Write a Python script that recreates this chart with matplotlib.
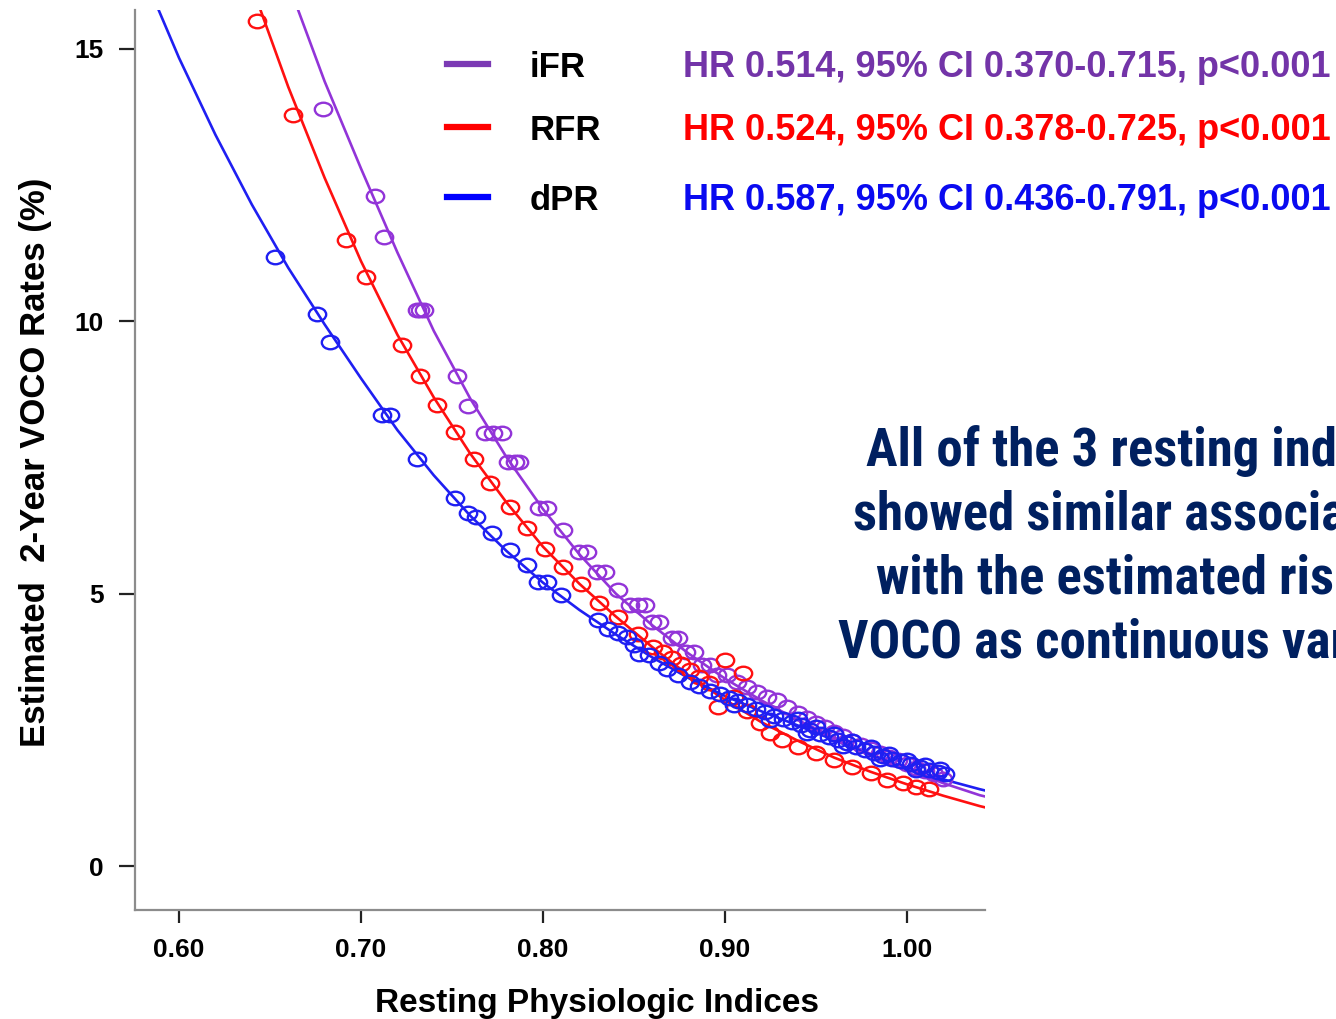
import matplotlib
matplotlib.use("Agg")
import matplotlib.pyplot as plt
from matplotlib import font_manager as fm
from matplotlib.path import Path
from matplotlib.transforms import Affine2D
from matplotlib.lines import Line2D

# fitted curves
fit_x = {
    "iFR": [0.66, 0.68, 0.70, 0.72, 0.74, 0.76, 0.78, 0.80, 0.82, 0.84, 0.86, 0.88,
            0.90, 0.92, 0.94, 0.96, 0.98, 1.00, 1.02, 1.04, 1.045],
    "RFR": [0.63, 0.64, 0.66, 0.68, 0.70, 0.72, 0.74, 0.76, 0.78, 0.80, 0.82, 0.84,
            0.86, 0.88, 0.90, 0.92, 0.94, 0.96, 0.98, 1.00, 1.02, 1.04, 1.045],
    "dPR": [0.58, 0.60, 0.62, 0.64, 0.66, 0.68, 0.70, 0.72, 0.74, 0.76, 0.78, 0.80,
            0.82, 0.84, 0.86, 0.88, 0.90, 0.92, 0.94, 0.96, 0.98, 1.00, 1.02, 1.04, 1.045],
}
fit_y = {
    "iFR": [16.2, 14.4, 12.8, 11.26, 9.82, 8.58, 7.5, 6.55, 5.72, 5.0, 4.42, 3.9,
            3.44, 3.04, 2.68, 2.36, 2.06, 1.78, 1.52, 1.3, 1.26],
    "RFR": [17.6, 16.15, 14.3, 12.63, 11.1, 9.75, 8.6, 7.57, 6.67, 5.86, 5.18, 4.58,
            4.02, 3.5, 3.05, 2.64, 2.3, 1.99, 1.73, 1.5, 1.29, 1.1, 1.06],
    "dPR": [16.4, 14.83, 13.42, 12.14, 10.98, 9.94, 8.95, 8.0, 7.17, 6.43, 5.78, 5.2,
            4.7, 4.25, 3.83, 3.45, 3.12, 2.84, 2.58, 2.31, 2.04, 1.8, 1.59, 1.41, 1.37],
}

# individual estimates (open circles)
pts_x = {
    "iFR": [0.679, 0.7077, 0.7126, 0.731, 0.7325, 0.7345, 0.7527, 0.759, 0.768, 0.7725, 0.7775,
            0.781, 0.7846, 0.787, 0.798, 0.802, 0.811, 0.820, 0.824, 0.8297, 0.834, 0.841,
            0.848, 0.852, 0.856, 0.860, 0.864, 0.871, 0.874, 0.8785, 0.883, 0.8874, 0.892,
            0.8956, 0.901, 0.9066, 0.912, 0.9176, 0.923, 0.9286, 0.934, 0.940, 0.945, 0.950,
            0.955, 0.960, 0.965, 0.970, 0.975, 0.980, 0.985, 0.990, 0.995, 1.000, 1.005,
            1.010, 1.015, 1.020],
    "RFR": [0.643, 0.6626, 0.692, 0.7027, 0.7225, 0.7324, 0.742, 0.7516, 0.762, 0.771, 0.782,
            0.791, 0.801, 0.811, 0.821, 0.831, 0.841, 0.852, 0.8604, 0.866, 0.871, 0.876,
            0.881, 0.886, 0.891, 0.896, 0.900, 0.905, 0.910, 0.912, 0.919, 0.925, 0.9315,
            0.940, 0.950, 0.960, 0.970, 0.980, 0.989, 0.998, 1.005, 1.012],
    "dPR": [0.6527, 0.676, 0.683, 0.7115, 0.716, 0.731, 0.7516, 0.759, 0.763, 0.772, 0.782,
            0.791, 0.797, 0.802, 0.810, 0.830, 0.836, 0.841, 0.846, 0.850, 0.853, 0.858,
            0.864, 0.868, 0.874, 0.881, 0.886, 0.892, 0.897, 0.902, 0.905, 0.907, 0.912,
            0.917, 0.922, 0.925, 0.927, 0.932, 0.937, 0.942, 0.945, 0.947, 0.952, 0.957,
            0.962, 0.965, 0.967, 0.972, 0.977, 0.982, 0.985, 0.987, 0.992, 0.997, 1.002,
            1.005, 1.007, 1.012, 1.017, 1.021,
            0.940, 0.950, 0.960, 0.970, 0.980, 0.990, 1.000, 1.010, 1.018],
}
pts_y = {
    "iFR": [13.9, 12.29, 11.54, 10.2, 10.2, 10.2, 8.99, 8.44, 7.94, 7.94, 7.94,
            7.41, 7.41, 7.41, 6.57, 6.57, 6.17, 5.76, 5.76, 5.39, 5.39, 5.06,
            4.79, 4.79, 4.79, 4.48, 4.48, 4.18, 4.18, 3.93, 3.93, 3.69, 3.69,
            3.50, 3.50, 3.38, 3.28, 3.19, 3.10, 3.05, 2.92, 2.80, 2.72, 2.62,
            2.55, 2.46, 2.39, 2.30, 2.23, 2.15, 2.08, 2.01, 1.94, 1.87, 1.80,
            1.74, 1.68, 1.60],
    "RFR": [15.5, 13.78, 11.49, 10.81, 9.56, 8.99, 8.46, 7.96, 7.47, 7.03, 6.59,
            6.20, 5.82, 5.49, 5.17, 4.83, 4.57, 4.26, 4.02, 3.92, 3.82, 3.70,
            3.60, 3.46, 3.35, 2.92, 3.78, 3.10, 3.54, 2.85, 2.62, 2.45, 2.31,
            2.18, 2.07, 1.94, 1.82, 1.71, 1.58, 1.52, 1.45, 1.42],
    "dPR": [11.17, 10.13, 9.61, 8.28, 8.28, 7.47, 6.75, 6.48, 6.40, 6.11, 5.80,
            5.52, 5.21, 5.21, 4.97, 4.52, 4.35, 4.27, 4.20, 4.05, 3.90, 3.88,
            3.72, 3.62, 3.50, 3.38, 3.30, 3.22, 3.16, 3.08, 2.95, 3.02, 2.95,
            2.88, 2.82, 2.68, 2.76, 2.70, 2.64, 2.58, 2.45, 2.50, 2.43, 2.37,
            2.31, 2.20, 2.25, 2.18, 2.13, 2.07, 1.97, 2.02, 1.97, 1.92, 1.87,
            1.77, 1.82, 1.77, 1.72, 1.68,
            2.70, 2.55, 2.42, 2.30, 2.18, 2.06, 1.95, 1.85, 1.78],
}

series = ["iFR", "RFR", "dPR"]
line_colors = {"iFR": "#9234D8", "RFR": "#FF1010", "dPR": "#1F1FF2"}
legend_colors = {"iFR": "#7B3AB4", "RFR": "#FF0000", "dPR": "#0000FF"}
text_colors = {"iFR": "#7334A8", "RFR": "#FF0000", "dPR": "#0A0AF0"}
stats_text = {
    "iFR": "HR 0.514, 95% CI 0.370-0.715, p<0.001",
    "RFR": "HR 0.524, 95% CI 0.378-0.725, p<0.001",
    "dPR": "HR 0.587, 95% CI 0.436-0.791, p<0.001",
}
xticks = [0.60, 0.70, 0.80, 0.90, 1.00]
yticks = [0, 5, 10, 15]
note_lines = ["All of the 3 resting indices",
              "showed similar association",
              "with the estimated risk of",
              "VOCO as continuous variables"]

W, H = 1336, 1019
plt.rcParams["font.family"] = ["Liberation Sans", "DejaVu Sans"]
plt.rcParams["font.weight"] = "bold"

# the note on the slide is set in a narrow bold face (Arial Narrow look);
# take a metric-alike narrow font if one is installed, DejaVu's is too wide
narrow_file = None
rank = None
for f in fm.fontManager.ttflist:
    fn = f.fname.lower()
    if not (("narrow" in fn or "condensed" in fn) and "bold" in fn):
        continue
    if "italic" in fn or "oblique" in fn or "semi" in fn or "extra" in fn:
        continue
    if "liberation" in fn:
        r = 0
    elif "roboto" in fn:
        r = 1
    elif "opensans" in fn or "open" in fn:
        r = 2
    elif "dejavu" in fn:
        continue
    else:
        r = 3
    if rank is None or r < rank:
        rank, narrow_file = r, f.fname
if narrow_file:
    note_font = fm.FontProperties(fname=narrow_file, size=38)
else:
    note_font = fm.FontProperties(family="Liberation Sans", weight="bold", size=35)

fig = plt.figure(figsize=(W / 100, H / 100), dpi=100)
ax = fig.add_axes([135 / W, 1 - 910 / H, 850 / W, 900 / H])

ellipse = Path.unit_circle().transformed(Affine2D().scale(1.0, 0.78))

for s in series:
    ax.plot(fit_x[s], fit_y[s], color=line_colors[s], lw=1.9, zorder=2)
for s in series:
    ax.plot(pts_x[s], pts_y[s], ls="none", marker=ellipse, markersize=12.5,
            markerfacecolor="none", markeredgecolor=line_colors[s],
            markeredgewidth=1.7, zorder=3)

ax.set_xlim(0.5758, 1.0429)
ax.set_ylim(-0.807, 15.71)
ax.set_xticks(xticks)
ax.set_xticklabels(["%.2f" % v for v in xticks])
ax.set_yticks(yticks)
for sp in ["top", "right"]:
    ax.spines[sp].set_visible(False)
for sp in ["left", "bottom"]:
    ax.spines[sp].set_color("#8c8c8c")
    ax.spines[sp].set_linewidth(1.6)
ax.tick_params(axis="x", length=9, width=1.6, color="#222222", pad=11, labelsize=19)
ax.tick_params(axis="y", length=11.5, width=1.6, color="#222222", pad=11, labelsize=19)

ax.set_xlabel("Resting Physiologic Indices", fontsize=24, fontweight="bold")
ax.xaxis.set_label_coords((597 - 135) / 850, (910 - 988) / 900)
ax.set_ylabel("Estimated  2-Year VOCO Rates (%)", fontsize=25, fontweight="bold")
ax.yaxis.set_label_coords((52 - 135) / 850, (910 - 462) / 900)

# hand-placed legend
leg_y = [64, 127, 197]
for s, yy in zip(series, leg_y):
    fig.add_artist(Line2D([447 / W, 488 / W], [1 - yy / H, 1 - yy / H],
                          color=legend_colors[s], lw=4.5, transform=fig.transFigure))
    fig.text(530 / W, 1 - (yy + 13) / H, s, fontsize=25, fontweight="bold",
             color="black", va="baseline", ha="left")
    fig.text(683 / W, 1 - (yy + 13) / H, stats_text[s], fontsize=26,
             fontweight="bold", color=text_colors[s], va="baseline", ha="left")

# annotation on the right (runs off the slide edge, as in the original)
note_x = [866, 853, 876, 838]
note_base = [466, 530, 594, 657]
for txt, xx, yy in zip(note_lines, note_x, note_base):
    fig.text(xx / W, 1 - yy / H, txt, fontproperties=note_font,
             color="#002060", va="baseline", ha="left")

fig.savefig("out.png", dpi=100)
